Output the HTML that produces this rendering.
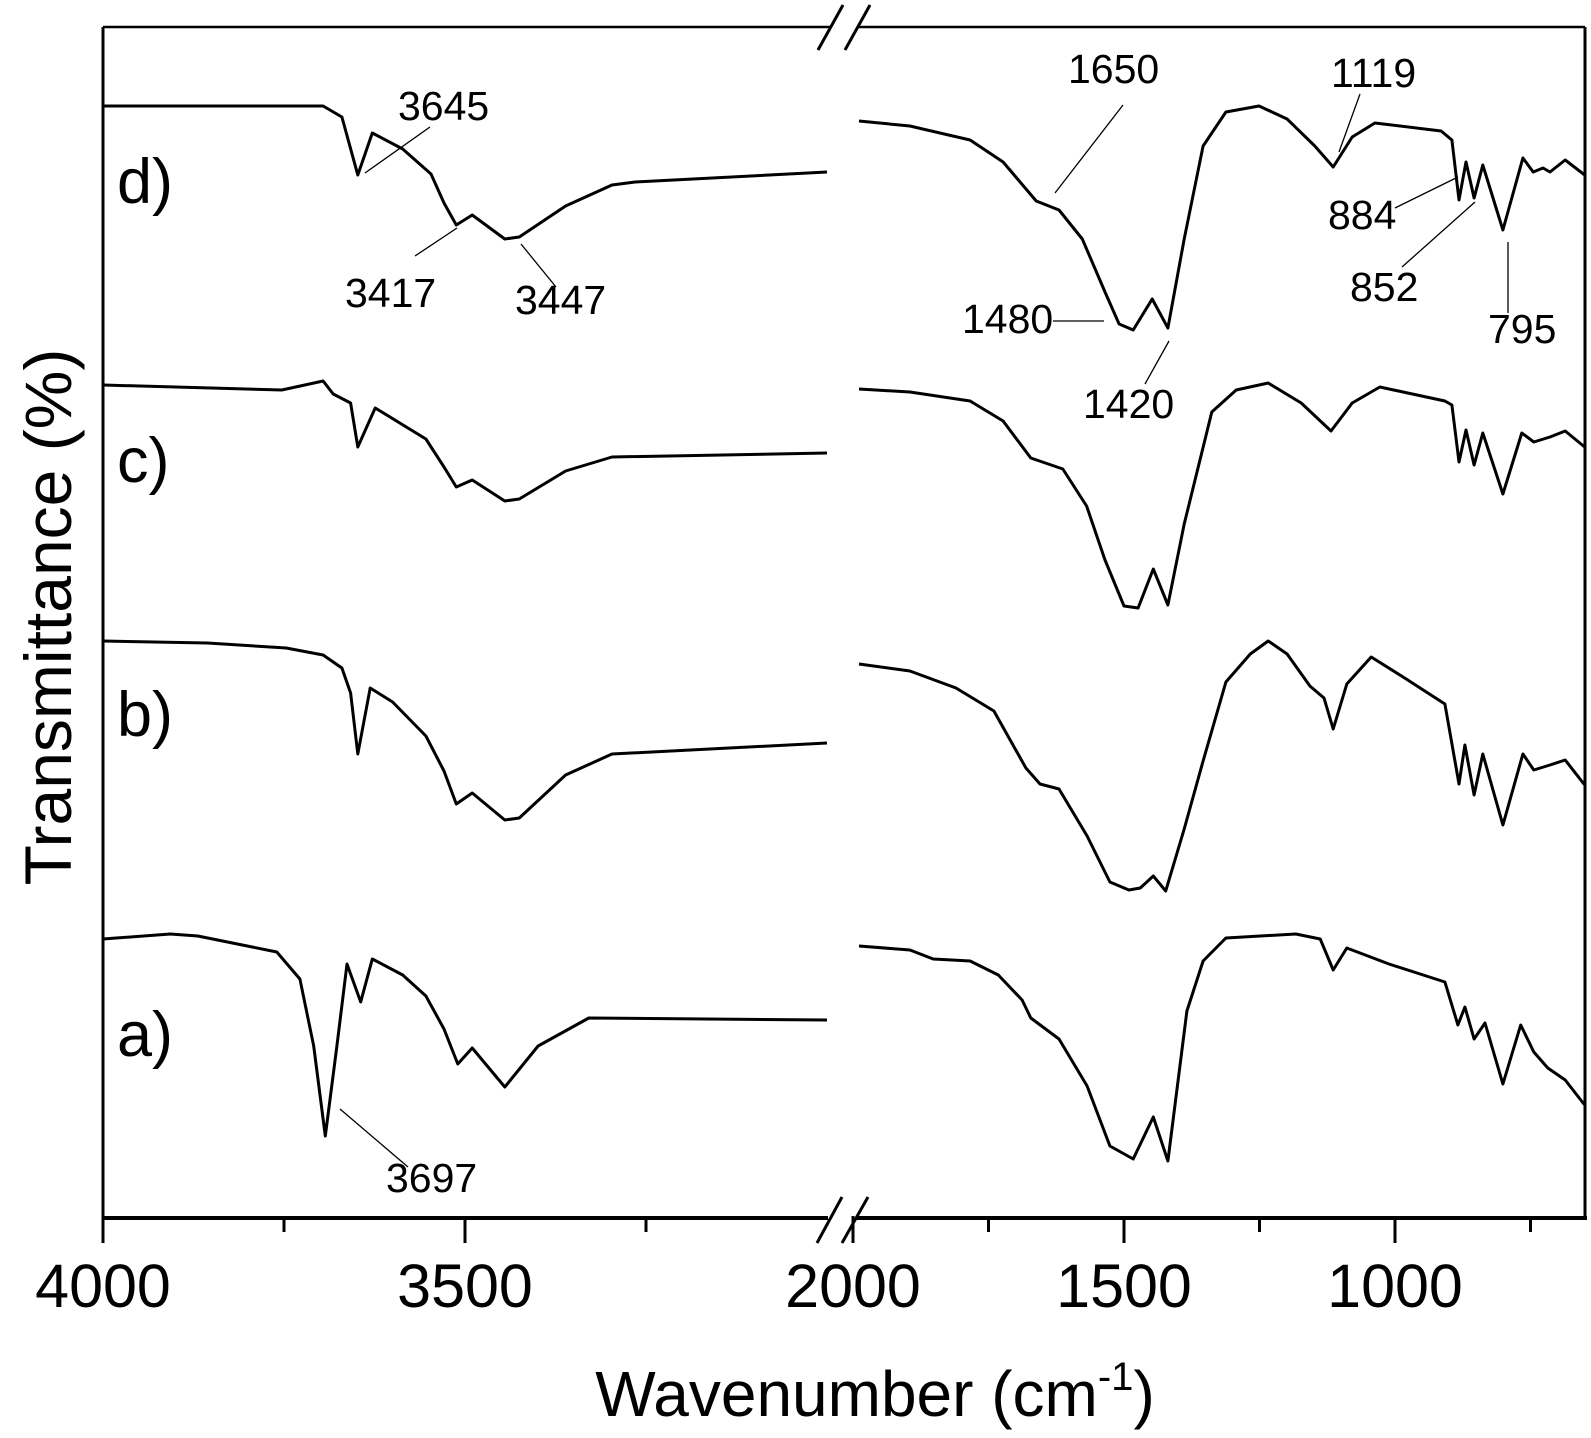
<!DOCTYPE html>
<html><head><meta charset="utf-8"><style>
html,body{margin:0;padding:0;background:#fff;}
svg{display:block;}
text{font-family:"Liberation Sans",Arial,sans-serif;fill:#000;}
</style></head>
<body>
<svg id="chart" width="1591" height="1438" viewBox="0 0 1591 1438">
  <g id="frame" stroke="#000" fill="none" stroke-linecap="butt">
    <line x1="103" y1="27" x2="103" y2="1218" stroke-width="3"/>
    <line x1="103" y1="27" x2="830" y2="27" stroke-width="2.5"/>
    <line x1="857" y1="27" x2="1585" y2="27" stroke-width="2.5"/>
    <line x1="1585" y1="27" x2="1585" y2="1218" stroke-width="3"/>
    <line x1="103" y1="1218" x2="828" y2="1218" stroke-width="4"/>
    <line x1="856" y1="1218" x2="1587" y2="1218" stroke-width="4"/>
    <line x1="818" y1="50" x2="843" y2="5" stroke-width="3"/>
    <line x1="845" y1="50" x2="870" y2="5" stroke-width="3"/>
    <line x1="817" y1="1243" x2="842" y2="1197" stroke-width="3"/>
    <line x1="842" y1="1243" x2="868" y2="1197" stroke-width="3"/>
  </g>
  <g id="ticks"></g>
  <g id="series"></g>

  <text x="875" y="1416" font-size="64" text-anchor="middle">Wavenumber (cm<tspan font-size="40" dy="-26">-1</tspan><tspan dy="26">)</tspan></text>
  <text x="71" y="617" font-size="66" text-anchor="middle" transform="rotate(-90 71 617)">Transmittance (%)</text>

  <text x="117" y="203" font-size="63">d)</text>
  <text x="117" y="482" font-size="63">c)</text>
  <text x="117" y="736" font-size="63">b)</text>
  <text x="117" y="1056" font-size="63">a)</text>

  <g stroke="#000" stroke-width="1.3">
    <line x1="430" y1="127" x2="365" y2="173"/>
    <line x1="415" y1="256" x2="457" y2="228"/>
    <line x1="521" y1="244" x2="556" y2="287"/>
    <line x1="340" y1="1109" x2="408" y2="1167"/>
    <line x1="1123" y1="105" x2="1055" y2="193"/>
    <line x1="1360" y1="94" x2="1339" y2="152"/>
    <line x1="1053" y1="321" x2="1104" y2="321"/>
    <line x1="1145" y1="384" x2="1169" y2="341"/>
    <line x1="1395" y1="208" x2="1458" y2="177"/>
    <line x1="1402" y1="267" x2="1475" y2="202"/>
    <line x1="1508" y1="242" x2="1508" y2="313"/>
  </g>
  <g font-size="41">
    <text x="398" y="120">3645</text>
    <text x="345" y="307">3417</text>
    <text x="515" y="314">3447</text>
    <text x="386" y="1192">3697</text>
    <text x="1068" y="83">1650</text>
    <text x="1331" y="87">1119</text>
    <text x="962" y="333">1480</text>
    <text x="1083" y="418">1420</text>
    <text x="1328" y="229">884</text>
    <text x="1350" y="301">852</text>
    <text x="1488" y="343">795</text>
  </g>
</svg>
<script>
// ---- data (wavenumber in cm-1, transmittance in arbitrary offset units) ----
const majorTicks = [4000, 3500, 2000, 1500, 1000];
const minorTicks = [3750, 3250, 1750, 1250, 750];
const tickLabels = ["4000", "3500", "2000", "1500", "1000"];

const dLeftW = [4000,3696,3670,3648,3628,3586,3547,3529,3512,3490,3445,3425,3361,3297,3265,3000];
const dLeftV = [1112,1112,1101,1043,1085,1069,1044,1015,993,1003,979,981,1012,1033,1036,1046];
const cLeftW = [4000,3753,3696,3682,3658,3648,3624,3554,3529,3512,3490,3445,3425,3361,3297,3000];
const cLeftV = [833,828,837,824,815,771,810,779,751,731,738,717,719,747,761,765];
const bLeftW = [4000,3856,3747,3696,3670,3658,3648,3631,3600,3554,3529,3512,3490,3445,3425,3361,3297,3000];
const bLeftV = [577,575,570,563,550,525,464,530,516,482,447,414,425,398,400,443,464,475];
const aLeftW = [4000,3907,3869,3760,3728,3709,3693,3677,3663,3644,3628,3586,3554,3529,3510,3490,3445,3399,3329,3000];
const aLeftV = [279,284,282,266,239,172,82,172,254,216,259,243,222,189,154,170,131,172,200,198];

const dRightW = [1989,1895,1784,1723,1662,1620,1577,1535,1509,1483,1448,1419,1389,1354,1312,1251,1199,1148,1114,1079,1037,915,895,882,869,854,838,801,764,745,727,714,686,650];
const dRightV = [1097,1092,1078,1056,1017,1008,979,926,894,888,919,890,979,1072,1106,1112,1099,1072,1051,1081,1095,1087,1078,1018,1056,1020,1053,988,1060,1046,1050,1046,1058,1043];
const cRightW = [1989,1895,1784,1723,1672,1613,1569,1535,1500,1474,1446,1419,1389,1338,1293,1234,1173,1118,1079,1028,908,895,882,869,854,838,801,766,744,714,686,650];
const cRightV = [829,826,817,797,760,749,712,658,612,610,649,613,694,806,828,835,815,787,815,831,817,813,756,788,753,785,724,785,776,781,787,771];
const bRightW = [1989,1895,1810,1740,1681,1655,1620,1568,1526,1491,1470,1446,1423,1389,1354,1312,1267,1234,1199,1157,1131,1114,1089,1044,985,908,882,871,854,838,801,764,744,714,686,650];
const bRightV = [554,547,530,507,450,434,429,382,336,328,330,342,327,389,457,536,564,577,564,532,520,489,534,561,541,514,434,473,423,464,393,464,448,453,458,433];
const aRightW = [1989,1895,1852,1784,1732,1688,1672,1620,1568,1526,1483,1446,1419,1384,1354,1312,1183,1138,1114,1089,1011,908,884,871,854,834,801,768,744,718,686,650];
const aRightV = [272,268,259,257,243,218,200,179,132,72,59,101,57,207,257,280,284,279,248,270,254,236,193,211,179,195,134,193,166,150,138,113];

// ---- scales ----
function xScale(w){
  if (w >= 3000) return 103 + (4000 - w) * 0.724;
  return 853 + (2000 - w) * 0.542;
}
function yScale(v){ return 1218 - v; }

const NS = "http://www.w3.org/2000/svg";
const tickG = document.getElementById('ticks');
majorTicks.forEach((w, i) => {
  const x = xScale(w);
  const l = document.createElementNS(NS, 'line');
  l.setAttribute('x1', x); l.setAttribute('x2', x);
  l.setAttribute('y1', 1216); l.setAttribute('y2', 1243);
  l.setAttribute('stroke', '#000'); l.setAttribute('stroke-width', 3);
  
  
  tickG.appendChild(l);
  const t = document.createElementNS(NS, 'text');
  t.setAttribute('x', x); t.setAttribute('y', 1307);
  t.setAttribute('font-size', 61); t.setAttribute('text-anchor', 'middle');
  t.textContent = tickLabels[i];
  
  
  tickG.appendChild(t);
});
minorTicks.forEach(w => {
  const x = xScale(w);
  const l = document.createElementNS(NS, 'line');
  l.setAttribute('x1', x); l.setAttribute('x2', x);
  l.setAttribute('y1', 1216); l.setAttribute('y2', 1232);
  l.setAttribute('stroke', '#000'); l.setAttribute('stroke-width', 3);
  
  
  tickG.appendChild(l);
});

const seriesG = document.getElementById('series');
function drawSeries(ws, vs, name){
  const p = document.createElementNS(NS, 'path');
  let d = '';
  ws.forEach((w, i) => { d += (i ? 'L' : 'M') + xScale(w).toFixed(1) + ',' + yScale(vs[i]).toFixed(1); });
  p.setAttribute('d', d);
  p.setAttribute('fill', 'none');
  p.setAttribute('stroke', '#000');
  p.setAttribute('stroke-width', 3);
  p.setAttribute('stroke-linejoin', 'round');
  
  
  seriesG.appendChild(p);
}
drawSeries(dLeftW, dLeftV, 'spectrum-d-high');
drawSeries(cLeftW, cLeftV, 'spectrum-c-high');
drawSeries(bLeftW, bLeftV, 'spectrum-b-high');
drawSeries(aLeftW, aLeftV, 'spectrum-a-high');
drawSeries(dRightW, dRightV, 'spectrum-d-low');
drawSeries(cRightW, cRightV, 'spectrum-c-low');
drawSeries(bRightW, bRightV, 'spectrum-b-low');
drawSeries(aRightW, aRightV, 'spectrum-a-low');
</script>
</body></html>
